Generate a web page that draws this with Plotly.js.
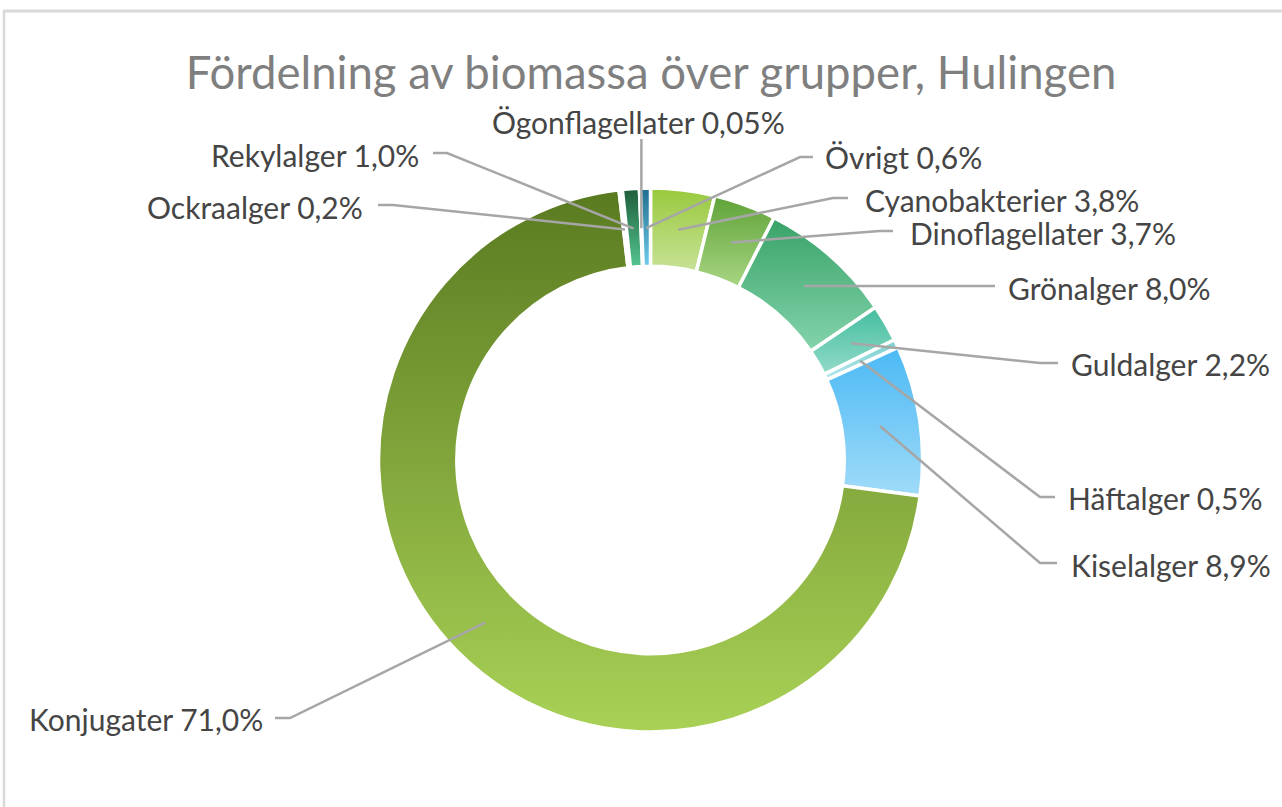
<!DOCTYPE html>
<html><head><meta charset="utf-8">
<script src="https://cdn.plot.ly/plotly-3.0.1.min.js"></script>
<style>html,body{margin:0;padding:0;background:#fff;} #chart{width:1282px;height:807px;}</style>
</head><body><div id="chart"></div>
<script>
// ---- data ----
const categories = ['Cyanobakterier','Dinoflagellater','Grönalger','Guldalger','Häftalger','Kiselalger','Konjugater','Ockraalger','Rekylalger','Ögonflagellater','Övrigt'];
const percentValues = [3.8, 3.7, 8.0, 2.2, 0.5, 8.9, 71.0, 0.2, 1.0, 0.05, 0.6];
const chartTitle = 'Fördelning av biomassa över grupper, Hulingen';

// ---- style ----
const gradTop    = ['#98c93c','#5fa238','#38a268','#43bd9e','#7ccfcc','#4bb9f4','#5a7a20','#6fb85a','#1d5c3a','#2a7fa0','#1e6e8e'];
const gradBottom = ['#c8e298','#a8d683','#84d4ab','#93dbc9','#b4e7ee','#a0dbf9','#a9d156','#a8dc94','#55c690','#7acbe6','#70cbe9'];
const W = 1282, H = 807;
const CX = 650.5, CY = 460, R = 272, HOLE = 0.712;
const anchorR = 232;
const fontFam = 'Lato, "Open Sans", sans-serif';
// label placement (pixels): text pos, anchor side, elbow segment
const labelLayout = [
  {tx:863,  ty:200, xa:'left',   ex:[833,848],  ey:198},
  {tx:908,  ty:233, xa:'left',   ex:[880,893],  ey:231},
  {tx:1006, ty:288, xa:'left',   ex:[985,995],  ey:286},
  {tx:1069, ty:364, xa:'left',   ex:[1040,1058],ey:363},
  {tx:1066, ty:498, xa:'left',   ex:[1040,1055],ey:497},
  {tx:1069, ty:565, xa:'left',   ex:[1040,1057],ey:563},
  {tx:265,  ty:719, xa:'right',  ex:[290,275],  ey:718},
  {tx:365,  ty:207, xa:'right',  ex:[393,378],  ey:205},
  {tx:421,  ty:155, xa:'right',  ex:[447,433],  ey:153},
  {tx:638,  ty:122, xa:'center', ex:null,       ey:139},
  {tx:823,  ty:157, xa:'left',   ex:[800,813],  ey:157}
];

const px = x => x / W;
const py = y => 1 - y / H;
const fmt = v => v.toFixed(v < 0.1 ? 2 : 1).replace('.', ',') + '%';
const total = percentValues.reduce((a, b) => a + b, 0);

const annotations = [];
const shapes = [];
let cum = 0;
percentValues.forEach((v, i) => {
  const mid = (cum + v / 2) / total * 2 * Math.PI;
  cum += v;
  const ax = CX + anchorR * Math.sin(mid);
  const ay = CY - anchorR * Math.cos(mid);
  const L = labelLayout[i];
  annotations.push({
    xref:'paper', yref:'paper', x:px(L.tx), y:py(L.ty), xanchor:L.xa, yanchor:'middle',
    text: categories[i] + ' ' + fmt(v), showarrow:false,
    font:{family:fontFam, size:30, color:'#454545'}
  });
  let path;
  if (L.ex) {
    path = `M ${px(ax)} ${py(ay)} L ${px(L.ex[0])} ${py(L.ey)} L ${px(L.ex[1])} ${py(L.ey)}`;
  } else {
    path = `M ${px(ax)} ${py(ay)} L ${px(ax)} ${py(L.ey)}`;
  }
  shapes.push({type:'path', xref:'paper', yref:'paper', path, line:{color:'#a6a6a6', width:2.5}, layer:'above'});
});
// frame
shapes.push({type:'line', xref:'paper', yref:'paper', x0:px(4), x1:px(4), y0:py(11), y1:py(H), line:{color:'#d9d9d9', width:2.5}, layer:'below'});
shapes.push({type:'line', xref:'paper', yref:'paper', x0:px(3), x1:px(W), y0:py(11), y1:py(11), line:{color:'#d9d9d9', width:3}, layer:'below'});

const trace = {
  type:'pie', values:percentValues, labels:categories, sort:false, direction:'clockwise', rotation:0,
  hole:HOLE, textinfo:'none', hoverinfo:'label+percent',
  marker:{colors:gradTop, line:{color:'#ffffff', width:3.5}},
  domain:{x:[px(CX - R), px(CX + R)], y:[py(CY + R), py(CY - R)]}
};
const layout = {
  width:W, height:H, margin:{l:0, r:0, t:0, b:0}, paper_bgcolor:'#ffffff', showlegend:false,
  title:{text:chartTitle, x:px(651), xanchor:'center', y:py(73), yanchor:'middle', yref:'paper',
         font:{family:fontFam, size:45.5, color:'#7f7f7f', weight:400}},
  annotations, shapes
};
Plotly.newPlot('chart', [trace], layout, {displayModeBar:false, staticPlot:true}).then(gd => {
  const svg = gd.querySelector('svg.main-svg');
  const NS = 'http://www.w3.org/2000/svg';
  let defs = svg.querySelector('defs');
  if (!defs) { defs = document.createElementNS(NS, 'defs'); svg.insertBefore(defs, svg.firstChild); }
  gradTop.forEach((c, i) => {
    const g = document.createElementNS(NS, 'linearGradient');
    g.setAttribute('id', 'sliceGrad' + i);
    g.setAttribute('x1', '0'); g.setAttribute('y1', '0'); g.setAttribute('x2', '0'); g.setAttribute('y2', '1');
    const s1 = document.createElementNS(NS, 'stop'); s1.setAttribute('offset', '0'); s1.setAttribute('stop-color', c);
    const s2 = document.createElementNS(NS, 'stop'); s2.setAttribute('offset', '1'); s2.setAttribute('stop-color', gradBottom[i]);
    g.appendChild(s1); g.appendChild(s2); defs.appendChild(g);
  });
  gd.querySelectorAll('g.slice path.surface').forEach((p, i) => {
    p.style.fill = 'url(#sliceGrad' + i + ')';
  });
});
</script></body></html>
